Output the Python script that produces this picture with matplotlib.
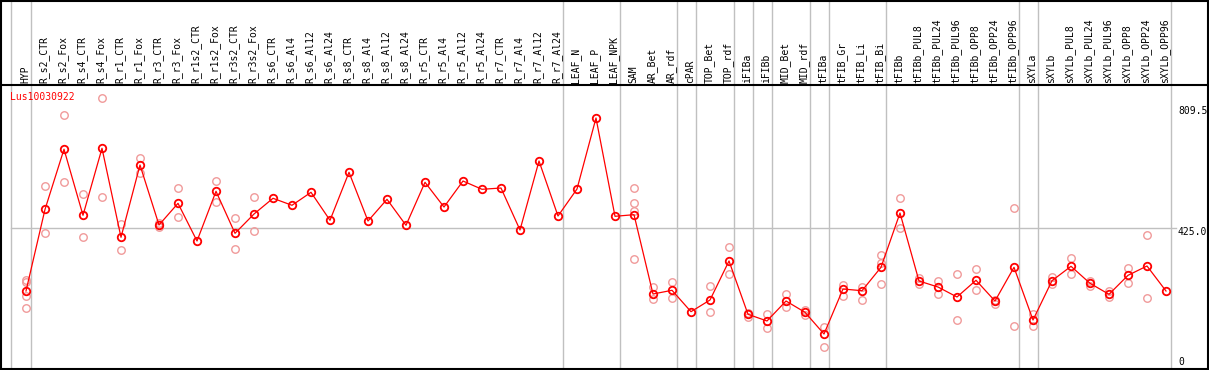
import matplotlib
matplotlib.use("Agg")
import matplotlib.pyplot as plt
from matplotlib.lines import Line2D

# sample names across the top
samples = [
    "HYP", "R_s2_CTR", "R_s2_Fox", "R_s4_CTR", "R_s4_Fox", "R_r1_CTR", "R_r1_Fox",
    "R_r3_CTR", "R_r3_Fox", "R_r1s2_CTR", "R_r1s2_Fox", "R_r3s2_CTR", "R_r3s2_Fox",
    "R_s6_CTR", "R_s6_Al4", "R_s6_Al12", "R_s6_Al24", "R_s8_CTR", "R_s8_Al4",
    "R_s8_Al12", "R_s8_Al24", "R_r5_CTR", "R_r5_Al4", "R_r5_Al12", "R_r5_Al24",
    "R_r7_CTR", "R_r7_Al4", "R_r7_Al12", "R_r7_Al24", "LEAF_N", "LEAF_P", "LEAF_NPK",
    "SAM", "AR_Bet", "AR_rdf", "cPAR", "TOP_Bet", "TOP_rdf", "iFIBa", "iFIBb",
    "MID_Bet", "MID_rdf", "tFIBa", "tFIB_Gr", "tFIB_Li", "tFIB_Bi", "tFIBb",
    "tFIBb_PUL8", "tFIBb_PUL24", "tFIBb_PUL96", "tFIBb_OPP8", "tFIBb_OPP24",
    "tFIBb_OPP96", "sXYLa", "sXYLb", "sXYLb_PUL8", "sXYLb_PUL24", "sXYLb_PUL96",
    "sXYLb_OPP8", "sXYLb_OPP24", "sXYLb_OPP96",
]

# mean expression per sample
means = [
    238.6, 480, 658, 462.6, 660.8, 397.5, 611.4, 433.9, 498, 386.5, 533.6, 409.3, 466.4,
    512.9, 492.2, 530.6, 447.8, 589.8, 445.7, 509.9, 433, 560.2, 487.1, 564, 539.5,
    543.3, 419.1, 623.2, 460.5, 540.4, 750.4, 459.6,
    464.4, 229.7, 240.7, 177.4, 212, 327.4, 169.7, 149.9, 209, 175.6, 111.4, 244.5,
    239.5, 308.7, 469.4, 268.2, 250.4, 220.9, 270.3, 209, 308.7, 152.8, 269.1, 311.7,
    261.4, 228.8, 285, 312.6, 238.6,
]

# individual replicates (empty where hidden behind the mean)
replicates = [
    [271.1, 266.1, 223.8, 187.4], [550.2, 409.3], [758.4, 560.2], [524.7, 397.5],
    [809.5, 515.8], [436.8, 359.0], [631.2, 588.6], [440.7, 427.1], [542.5, 456.7],
    [], [564.0, 502.8], [453.7, 362.0], [515.8, 415.2],
    [], [], [], [], [], [], [], [], [], [], [], [], [], [], [], [], [], [], [],
    [543.3, 499.0, 475.3, 333.3], [251.1, 214.7], [265.2, 217.0], [], [253.4, 175.6],
    [367.9, 287.9], [172.6, 162.6], [169.7, 128.3], [229.7, 190.4], [182.1, 167.3],
    [132.8, 71.8], [255.5, 224.8], [251.3, 211.0], [345.1, 322.3, 259.3],
    [512.9, 425.9], [276.1, 259.3], [269.1, 228.8], [288.9, 152.8], [303.7, 240.7],
    [211.9, 200.1], [484.2, 135.1], [169.7, 135.1], [279.1, 258.4], [336.2, 288.9],
    [269.1, 253.4], [238.6, 220.9], [306.7, 262.3], [403.4, 217.9], [],
]

# vertical separators are drawn after these samples
group_ends = ["HYP", "R_r7_Al24", "LEAF_NPK", "AR_rdf", "cPAR", "TOP_rdf", "iFIBa",
              "iFIBb", "MID_rdf", "tFIBa", "tFIB_Bi", "tFIBb_OPP96", "sXYLa", "sXYLb_OPP96"]

gene = "Lus10030922"
y_labels = ["809.5", "425.0", "0"]

W, H = 1209, 370
x0, dx = 26, 19          # pixel of first sample, spacing
y_ref, ppu = 228, 0.338  # pixel row of 425, pixels per unit

fig = plt.figure(figsize=(W / 100, H / 100), dpi=100)
ax = fig.add_axes([0, 0, 1, 1])
ax.set_xlim(-x0 / dx, (W - x0) / dx)
ax.set_ylim(425 - (H - y_ref) / ppu, 425 + y_ref / ppu)
ax.axis("off")

grey = "#c0c0c0"
for name in group_ends:
    ax.axvline(samples.index(name) + 0.24, color=grey, lw=1, zorder=1)
ax.axvline(-0.8, color=grey, lw=1, zorder=1)
ax.plot([-0.8, 60.5], [425, 425], color=grey, lw=1, zorder=1)

xs = list(range(len(samples)))
for i, reps in enumerate(replicates):
    ax.plot([i] * len(reps), reps, "o", ms=5.4, mfc="none", mec="#f09a9a", mew=1.0,
            ls="none", zorder=2)
ax.plot(xs, means, "-", color="red", lw=0.9, zorder=3)
ax.plot(xs, means, "o", ms=5.4, mfc="none", mec="red", mew=1.3, zorder=4)

mono = "DejaVu Sans Mono"
for i, name in enumerate(samples):
    fig.text((x0 + dx * i - 1) / W, 1 - 83 / H, name, rotation=90, ha="center",
             va="bottom", fontsize=7, family=mono)

fig.text(10 / W, 1 - 97 / H, gene, color="red", fontsize=7, family=mono,
         ha="left", va="center")
for lab, py in zip(y_labels, [111.5, 232, 362]):
    fig.text(1178 / W, 1 - py / H, lab, fontsize=7, family=mono, ha="left", va="center")

# frame and header rule
def hline(py, x1=0, x2=W):
    fig.add_artist(Line2D([x1 / W, x2 / W], [1 - py / H, 1 - py / H], color="black",
                          lw=1.5, transform=fig.transFigure))

def vline(px):
    fig.add_artist(Line2D([px / W, px / W], [1 - 368.5 / H, 1], color="black",
                          lw=1.5, transform=fig.transFigure))

hline(0.5)
hline(85)
hline(368.5)
vline(1)
vline(1207.5)

fig.savefig("out.png", dpi=100)
